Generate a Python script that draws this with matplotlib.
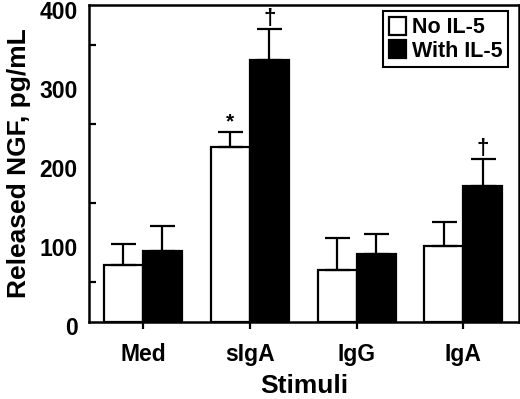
import matplotlib
matplotlib.use("Agg")
import matplotlib.pyplot as plt
import matplotlib.transforms as mtransforms
import numpy as np

plt.rcParams['font.family'] = ['Liberation Sans', 'DejaVu Sans']
plt.rcParams['font.weight'] = 'bold'

categories = ['Med', 'sIgA', 'IgG', 'IgA']
no_il5 = [72, 221, 66, 96]
no_il5_err = [27, 19, 40, 31]
with_il5 = [90, 332, 86, 172]
with_il5_err = [31, 39, 25, 34]
no_marks = ['', '*', '', '']
with_marks = ['', '\u2020', '', '\u2020']

fig = plt.figure(figsize=(5.2, 3.99), dpi=100)
ax = fig.add_axes([0.171, 1 - 322 / 399, 0.827, 317 / 399])

x = np.arange(len(categories))
w = 0.365
ekw = dict(elinewidth=1.6, capthick=1.6, capsize=9, ecolor='black')
ax.bar(x - w / 2, no_il5, w, color='white', edgecolor='black', linewidth=1.6,
       label='No IL-5')
ax.errorbar(x - w / 2, no_il5, yerr=[np.zeros(4), no_il5_err], fmt='none', **ekw)
ax.bar(x + w / 2, with_il5, w, color='black', edgecolor='black', linewidth=1.6,
       label='With IL-5')
ax.errorbar(x + w / 2, with_il5, yerr=[np.zeros(4), with_il5_err], fmt='none', **ekw)

for i in range(len(categories)):
    if no_marks[i]:
        ax.text(x[i] - w / 2, no_il5[i] + no_il5_err[i] + 1, no_marks[i],
                ha='center', va='bottom', fontsize=15, fontweight='bold')
    if with_marks[i]:
        ax.text(x[i] + w / 2, with_il5[i] + with_il5_err[i] + 6, with_marks[i],
                ha='center', va='baseline', fontsize=16, fontweight='bold')

ax.set_xlim(-0.505, 3.52)
ax.set_ylim(0, 401)
ax.set_xticks(x)
ax.set_xticklabels(categories, fontsize=16.5, fontweight='bold')
ax.set_yticks([0, 100, 200, 300, 400])
ax.set_yticklabels(['0', '100', '200', '300', '400'], fontsize=16.5, fontweight='bold')
ax.set_yticks([50, 150, 250, 350], minor=True)
ax.tick_params(axis='y', which='major', length=0, pad=8)
ax.tick_params(axis='y', which='minor', direction='in', length=5, width=1.6)
ax.tick_params(axis='x', direction='out', length=5, width=1.6, pad=10)
for s in ax.spines.values():
    s.set_linewidth(1.8)

# labels in the reference sit a few pixels below their tick values
shift = mtransforms.ScaledTranslation(0, -4 / 100, fig.dpi_scale_trans)
for lab in ax.get_yticklabels():
    lab.set_transform(lab.get_transform() + shift)

ax.set_xlabel('Stimuli', fontsize=19, fontweight='bold', labelpad=6)
ax.set_ylabel('Released NGF, pg/mL', fontsize=19, fontweight='bold', labelpad=6)

leg = ax.legend(loc='upper right', bbox_to_anchor=(0.975, 0.98), fancybox=False,
                edgecolor='black', framealpha=1, prop={'size': 15.5, 'weight': 'bold'},
                handlelength=0.8, handleheight=0.9, handletextpad=0.3,
                borderpad=0.25, labelspacing=0.1, borderaxespad=0)
leg.get_frame().set_linewidth(1.5)

fig.savefig('out.png', dpi=100)
